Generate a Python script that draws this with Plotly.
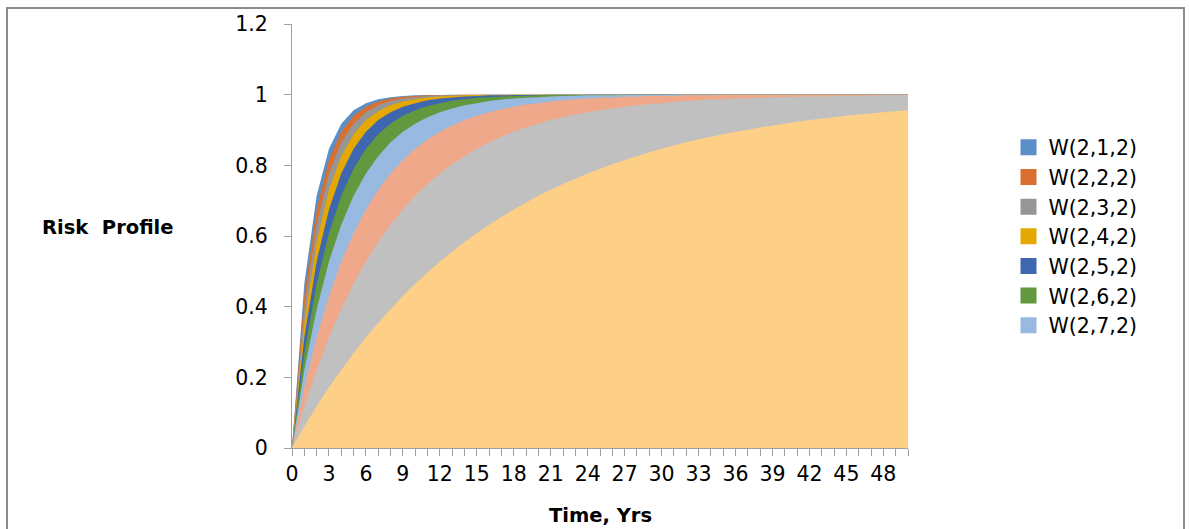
import plotly.graph_objects as go

# Time axis (years) — one category per year
years = list(range(0, 51))

# Risk profile series W(2,k,2), k = 1..10
w_2_1_2 = [0, 0.465, 0.714, 0.847, 0.918, 0.956, 0.976, 0.987, 0.993, 0.996, 0.998, 0.999, 0.999,
           1, 1, 1, 1, 1, 1, 1, 1, 1, 1, 1, 1, 1, 1, 1, 1, 1, 1, 1, 1, 1, 1, 1, 1, 1, 1, 1, 1,
           1, 1, 1, 1, 1, 1, 1, 1, 1, 1]
w_2_2_2 = [0, 0.430, 0.675, 0.815, 0.895, 0.940, 0.966, 0.981, 0.989, 0.994, 0.996, 0.998, 0.999,
           0.999, 1, 1, 1, 1, 1, 1, 1, 1, 1, 1, 1, 1, 1, 1, 1, 1, 1, 1, 1, 1, 1, 1, 1, 1, 1, 1, 1,
           1, 1, 1, 1, 1, 1, 1, 1, 1, 1]
w_2_3_2 = [0, 0.393, 0.632, 0.777, 0.865, 0.918, 0.950, 0.970, 0.982, 0.989, 0.993, 0.996, 0.998,
           0.998, 0.999, 0.999, 1, 1, 1, 1, 1, 1, 1, 1, 1, 1, 1, 1, 1, 1, 1, 1, 1, 1, 1, 1, 1, 1,
           1, 1, 1, 1, 1, 1, 1, 1, 1, 1, 1, 1, 1]
w_2_4_2 = [0, 0.354, 0.583, 0.731, 0.826, 0.888, 0.928, 0.953, 0.970, 0.981, 0.987, 0.992, 0.995,
           0.997, 0.998, 0.999, 0.999, 0.999, 1, 1, 1, 1, 1, 1, 1, 1, 1, 1, 1, 1, 1, 1, 1, 1, 1,
           1, 1, 1, 1, 1, 1, 1, 1, 1, 1, 1, 1, 1, 1, 1, 1]
w_2_5_2 = [0, 0.313, 0.528, 0.675, 0.777, 0.847, 0.895, 0.928, 0.950, 0.966, 0.976, 0.984, 0.989,
           0.992, 0.995, 0.996, 0.998, 0.998, 0.999, 0.999, 0.999, 1, 1, 1, 1, 1, 1, 1, 1, 1, 1,
           1, 1, 1, 1, 1, 1, 1, 1, 1, 1, 1, 1, 1, 1, 1, 1, 1, 1, 1, 1]
w_2_6_2 = [0, 0.268, 0.465, 0.608, 0.714, 0.790, 0.847, 0.888, 0.918, 0.940, 0.956, 0.968, 0.976,
           0.983, 0.987, 0.991, 0.993, 0.995, 0.996, 0.997, 0.998, 0.999, 0.999, 0.999, 0.999, 1,
           1, 1, 1, 1, 1, 1, 1, 1, 1, 1, 1, 1, 1, 1, 1, 1, 1, 1, 1, 1, 1, 1, 1, 1, 1]
w_2_7_2 = [0, 0.221, 0.393, 0.528, 0.632, 0.714, 0.777, 0.826, 0.865, 0.895, 0.918, 0.936, 0.950,
           0.961, 0.970, 0.976, 0.982, 0.986, 0.989, 0.991, 0.993, 0.995, 0.996, 0.997, 0.998,
           0.998, 0.998, 0.999, 0.999, 0.999, 0.999, 1, 1, 1, 1, 1, 1, 1, 1, 1, 1, 1, 1, 1, 1, 1,
           1, 1, 1, 1, 1]
w_2_8_2 = [0, 0.171, 0.313, 0.430, 0.528, 0.608, 0.675, 0.731, 0.777, 0.815, 0.847, 0.873, 0.895,
           0.913, 0.928, 0.940, 0.950, 0.959, 0.966, 0.972, 0.976, 0.981, 0.984, 0.987, 0.989,
           0.991, 0.992, 0.994, 0.995, 0.996, 0.996, 0.997, 0.998, 0.998, 0.998, 0.999, 0.999,
           0.999, 0.999, 0.999, 0.999, 1, 1, 1, 1, 1, 1, 1, 1, 1, 1]
w_2_9_2 = [0, 0.118, 0.221, 0.313, 0.393, 0.465, 0.528, 0.583, 0.632, 0.675, 0.714, 0.747, 0.777,
           0.803, 0.826, 0.847, 0.865, 0.881, 0.895, 0.907, 0.918, 0.928, 0.936, 0.944, 0.950,
           0.956, 0.961, 0.966, 0.970, 0.973, 0.976, 0.979, 0.982, 0.984, 0.986, 0.987, 0.989,
           0.990, 0.991, 0.992, 0.993, 0.994, 0.995, 0.995, 0.996, 0.996, 0.997, 0.997, 0.998,
           0.998, 0.998]
w_2_10_2 = [0, 0.061, 0.118, 0.171, 0.221, 0.268, 0.313, 0.354, 0.393, 0.430, 0.465, 0.497, 0.528,
            0.556, 0.583, 0.608, 0.632, 0.654, 0.675, 0.695, 0.714, 0.731, 0.747, 0.762, 0.777,
            0.790, 0.803, 0.815, 0.826, 0.837, 0.847, 0.856, 0.865, 0.873, 0.881, 0.888, 0.895,
            0.901, 0.907, 0.913, 0.918, 0.923, 0.928, 0.932, 0.936, 0.940, 0.944, 0.947, 0.950,
            0.953, 0.956]

series_names = ["W(2,1,2)", "W(2,2,2)", "W(2,3,2)", "W(2,4,2)", "W(2,5,2)",
                "W(2,6,2)", "W(2,7,2)", "W(2,8,2)", "W(2,9,2)", "W(2,10,2)"]
series_values = [w_2_1_2, w_2_2_2, w_2_3_2, w_2_4_2, w_2_5_2,
                 w_2_6_2, w_2_7_2, w_2_8_2, w_2_9_2, w_2_10_2]
series_colors = ["#5A8FC8", "#D9702F", "#969696", "#E5A800", "#3E67B0",
                 "#62993F", "#98BAE0", "#F0A88A", "#C0C0C0", "#FECF87"]

# Number of series listed in the legend box
legend_count = 7

x_tick_vals = list(range(0, 49, 3))
y_tick_vals = [0, 0.2, 0.4, 0.6, 0.8, 1.0, 1.2]
y_tick_text = ["0", "0.2", "0.4", "0.6", "0.8", "1", "1.2"]

FONT = "DejaVu Sans"
AXIS_GREY = "#A0A0A0"
TICK_SIZE = 20.5
TITLE_SIZE = 19.5
LEGEND_SIZE = 20.5

fig = go.Figure()

# Overlapping (unstacked) areas: later series are painted over earlier ones
for name, vals, col in zip(series_names, series_values, series_colors):
    fig.add_trace(go.Scatter(
        x=years, y=vals, name=name, mode="none",
        fill="tozeroy", fillcolor=col, showlegend=False, hoverinfo="x+y+name",
    ))

# Square swatches for the legend box
for i in range(legend_count):
    fig.add_trace(go.Scatter(
        x=[None], y=[None], mode="markers", name=series_names[i],
        marker=dict(symbol="square", size=16, color=series_colors[i]),
    ))

L, R, T, B = 292, 281, 24, 81
W, H = 1189, 529
pw, ph = W - L - R, H - T - B


def px_x(px):
    return (px - L) / pw


def px_y(py):
    return (H - B - py) / ph


fig.update_layout(
    width=W, height=H,
    margin=dict(l=L, r=R, t=T, b=B, autoexpand=False),
    paper_bgcolor="white", plot_bgcolor="white",
    font=dict(family=FONT, size=TICK_SIZE, color="#000000"),
    showlegend=True,
    legend=dict(
        x=px_x(1008.5), y=px_y(127.5), xanchor="left", yanchor="top",
        traceorder="normal",
        font=dict(family=FONT, size=LEGEND_SIZE, color="#000000"),
        bgcolor="rgba(0,0,0,0)",
    ),
    xaxis=dict(
        range=[0, 50], tickmode="array", tickvals=x_tick_vals,
        ticktext=[str(v) for v in x_tick_vals],
        showgrid=False, zeroline=False,
        showline=True, linecolor=AXIS_GREY, linewidth=1,
        ticks="outside", ticklen=7, tickcolor=AXIS_GREY, tickwidth=1,
        ticklabelstandoff=0,
        minor=dict(dtick=1, tick0=0, ticks="outside", ticklen=7,
                   tickcolor=AXIS_GREY, tickwidth=1, showgrid=False),
        tickfont=dict(family=FONT, size=TICK_SIZE),
        fixedrange=True,
    ),
    yaxis=dict(
        range=[0, 1.2], tickmode="array", tickvals=y_tick_vals, ticktext=y_tick_text,
        showgrid=False, zeroline=False,
        showline=True, linecolor=AXIS_GREY, linewidth=1,
        ticks="outside", ticklen=7, tickcolor=AXIS_GREY, tickwidth=1,
        ticklabelstandoff=12,
        tickfont=dict(family=FONT, size=TICK_SIZE),
        fixedrange=True,
    ),
    annotations=[
        dict(text="<b>Risk\u00a0 Profile</b>", xref="paper", yref="paper",
             x=px_x(40), y=px_y(227), xanchor="left", yanchor="middle",
             showarrow=False, font=dict(family=FONT, size=TITLE_SIZE, color="#000000")),
        dict(text="<b>Time, Yrs</b>", xref="paper", yref="paper",
             x=px_x(600), y=px_y(515), xanchor="center", yanchor="middle",
             showarrow=False, font=dict(family=FONT, size=TITLE_SIZE, color="#000000")),
    ],
    shapes=[
        # chart area frame
        dict(type="rect", xref="paper", yref="paper",
             x0=px_x(7), x1=px_x(1184), y0=px_y(560), y1=px_y(8),
             line=dict(color="#8C8C8C", width=2), fillcolor="rgba(0,0,0,0)",
             layer="below"),
    ],
)

fig.write_html("out.html")
